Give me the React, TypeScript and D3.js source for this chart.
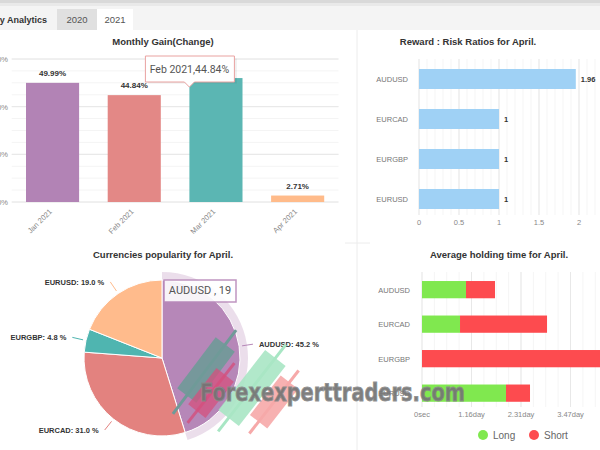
import React from "react";
import * as d3 from "d3";

const months = ["Jan 2021", "Feb 2021", "Mar 2021", "Apr 2021"];
const gains = [49.99, 44.84, 52.0, 2.71];
const gainLabels = ["49.99%", "44.84%", "52.00%", "2.71%"];
const monthColors = ["#b283b5", "#e38886", "#5bb6b3", "#ffbb8a"];
const gainTicks = [0, 20, 40, 60];

const pairs = ["AUDUSD", "EURCAD", "EURGBP", "EURUSD"];
const ratios = [1.96, 1, 1, 1];
const ratioTicks = [0, 0.5, 1, 1.5, 2];

const popularity = [45.2, 31.0, 4.8, 19.0];
const pieColors = ["#b687b8", "#e3827f", "#4fb5b0", "#ffbb8c"];

const longSecs = [88900, 76800, 0, 169700];
const shortSecs = [58600, 175800, 460000, 48500];
const holdTicks = [0, 100000, 200000, 300000, 400000];

const FONT = "'Liberation Sans', Arial, sans-serif";

export default function App() {
  // Chart 1: monthly gain
  const x1 = d3.scaleBand<string>().domain(months).range([11.7, 338.5]).paddingInner(0.35).paddingOuter(0.175);
  const y1 = d3.scaleLinear().domain([0, 60]).range([202, 59]);
  const minor1 = d3.range(0, 61, 5);

  // Chart 2: reward risk
  const x2 = d3.scaleLinear().domain([0, 2.2]).range([419, 595]);
  const y2 = d3.scaleBand<string>().domain(pairs).range([59, 219]).paddingInner(0.5).paddingOuter(0.25);
  const minor2 = d3.range(0, 2.21, 0.1);

  // Chart 3: pie
  const cx = 162, cy = 358, R = 78;
  const pie = d3.pie<number>().sort(null).value((d) => d)(popularity);
  const arc = d3.arc<d3.PieArcDatum<number>>().innerRadius(0).outerRadius(R);
  const halo = d3.arc<d3.PieArcDatum<number>>().innerRadius(R).outerRadius(R + 8);

  // Chart 4: holding time
  const x4 = d3.scaleLinear().domain([0, 500000]).range([422, 669.5]);
  const y4 = d3.scaleBand<string>().domain(pairs).range([272.4, 410.4]).paddingInner(0.5).paddingOuter(0.25);
  const minor4 = d3.range(0, 500001, 25000);
  const fmtHold = (v: number) => (v === 0 ? "0sec" : (v / 86400).toFixed(2) + "day");

  const marIdx = 2;
  const tipX = x1(months[marIdx])!;
  const tipY = y1(gains[marIdx]) + 9;

  return (
    <svg width={600} height={450} style={{ position: "absolute", left: 0, top: 0, background: "#fff" }} fontFamily={FONT}>
      {/* header */}
      <rect x={0} y={0} width={600} height={30} fill="#f4f4f4" />
      <rect x={0} y={0} width={600} height={3} fill="#d9d9d9" />
      <rect x={0} y={3} width={600} height={3} fill="#e9e9e9" />
      <rect x={57} y={9} width={40} height={21} fill="#e0e0e0" />
      <rect x={97} y={9} width={36} height={21} fill="#ffffff" />
      <text x={47} y={23} textAnchor="end" fontSize={9} fontWeight="bold" fill="#333">Monthly Analytics</text>
      <text x={77} y={23} textAnchor="middle" fontSize={9.5} fill="#555">2020</text>
      <text x={115} y={23} textAnchor="middle" fontSize={9.5} fill="#555">2021</text>
      <line x1={357} y1={30} x2={357} y2={450} stroke="#ececec" />
      <line x1={345} y1={243} x2={370} y2={243} stroke="#ececec" />

      {/* Chart 1 */}
      <text x={163} y={45} textAnchor="middle" fontSize={9.5} fontWeight="bold" fill="#333">Monthly Gain(Change)</text>
      {minor1.map((t) => (
        <line key={"m1" + t} x1={11.7} x2={338.5} y1={y1(t)} y2={y1(t)} stroke="#f4f4f4" />
      ))}
      {gainTicks.map((t) => (
        <g key={"g1" + t}>
          <line x1={11.7} x2={338.5} y1={y1(t)} y2={y1(t)} stroke="#e6e6e6" />
          <text x={8} y={y1(t) + 3} textAnchor="end" fontSize={7.5} fill="#888">{t + "%"}</text>
        </g>
      ))}
      {months.map((m, i) => (
        <g key={m}>
          <rect x={x1(m)} y={y1(gains[i])} width={x1.bandwidth()} height={y1(0) - y1(gains[i])} fill={monthColors[i]} />
          <text x={x1(m)! + x1.bandwidth() / 2} y={y1(gains[i]) - 7} textAnchor="middle" fontSize={8} fontWeight="bold" fill="#333">{gainLabels[i]}</text>
          <text transform={`translate(${x1(m)! + x1.bandwidth() / 2},${y1(0) + 10}) rotate(-45)`} textAnchor="end" fontSize={7.5} fill="#888">{m}</text>
        </g>
      ))}
      {/* tooltip */}
      <g>
        <rect x={tipX - 43} y={57} width={89} height={25} fill="#000" opacity={0.06} transform="translate(1.5,1.5)" />
        <path d={`M${tipX - 44},56 H${tipX + 45} V82 H${tipX + 5} L${tipX},${tipY} L${tipX - 5},82 H${tipX - 44} Z`} fill="#fff" stroke="#e9a2a0" strokeWidth={1} />
        <text x={tipX} y={73} textAnchor="middle" fontSize={10.5} fill="#555" fontFamily="Roboto, sans-serif">Feb 2021,44.84%</text>
      </g>

      {/* Chart 2 */}
      <text x={468} y={45} textAnchor="middle" fontSize={9.5} fontWeight="bold" fill="#333">Reward : Risk Ratios for April.</text>
      {minor2.map((t, i) => (
        <line key={"m2" + i} x1={x2(t)} x2={x2(t)} y1={59} y2={215} stroke="#f5f5f5" />
      ))}
      {ratioTicks.map((t) => (
        <g key={"t2" + t}>
          <line x1={x2(t)} x2={x2(t)} y1={59} y2={215} stroke="#e8e8e8" />
          <text x={x2(t)} y={225} textAnchor="middle" fontSize={7.5} fill="#888">{t}</text>
        </g>
      ))}
      {pairs.map((p, i) => (
        <g key={"r" + p}>
          <rect x={x2(0)} y={y2(p)} width={x2(ratios[i]) - x2(0)} height={y2.bandwidth()} fill="#9fd1f5" />
          <text x={x2(ratios[i]) + 5} y={y2(p)! + y2.bandwidth() / 2 + 3} fontSize={7.5} fontWeight="bold" fill="#333">{ratios[i]}</text>
          <text x={408} y={y2(p)! + y2.bandwidth() / 2 + 3} textAnchor="end" fontSize={7.5} fill="#777">{p}</text>
        </g>
      ))}

      {/* Chart 3 */}
      <text x={163} y={258} textAnchor="middle" fontSize={9.5} fontWeight="bold" fill="#333">Currencies popularity for April.</text>
      <g transform={`translate(${cx},${cy})`}>
        <path d={halo(pie[0])!} fill="#b687b8" opacity={0.28} />
        {pie.map((s, i) => (
          <path key={"p" + i} d={arc(s)!} fill={pieColors[i]} stroke="#fff" strokeWidth={1} />
        ))}
        {pie.map((s, i) => {
          const a = (s.startAngle + s.endAngle) / 2;
          const sx = Math.sin(a), sy = -Math.cos(a);
          const p1 = [sx * (R + 3), sy * (R + 3)];
          const p2 = [sx * (R + 14), sy * (R + 14)];
          const right = sx > 0;
          return (
            <g key={"l" + i}>
              <line x1={p1[0]} y1={p1[1]} x2={p2[0]} y2={p2[1]} stroke={pieColors[i]} strokeWidth={1} />
              <text x={p2[0] + (right ? 6 : -6)} y={p2[1] + 3} textAnchor={right ? "start" : "end"} fontSize={7.5} fontWeight="bold" fill="#333">
                {pairs[i] + ": " + popularity[i].toFixed(1) + " %"}
              </text>
            </g>
          );
        })}
      </g>
      <g>
        <rect x={cx + 2} y={cy - 78} width={72} height={22} fill="#fff" opacity={0.9} stroke="#b98bbb" strokeWidth={1.5} />
        <text x={cx + 38} y={cy - 64} textAnchor="middle" fontSize={11} fill="#555" fontFamily="Roboto, sans-serif">AUDUSD , 19</text>
      </g>

      {/* Chart 4 */}
      <text x={499} y={258} textAnchor="middle" fontSize={9.5} fontWeight="bold" fill="#333">Average holding time for April.</text>
      {minor4.map((t, i) => (
        <line key={"m4" + i} x1={x4(t)} x2={x4(t)} y1={272} y2={407} stroke="#f5f5f5" />
      ))}
      {holdTicks.map((t) => (
        <g key={"t4" + t}>
          <line x1={x4(t)} x2={x4(t)} y1={272} y2={407} stroke="#e8e8e8" />
          <text x={x4(t)} y={417} textAnchor="middle" fontSize={7.5} fill="#888">{fmtHold(t)}</text>
        </g>
      ))}
      {pairs.map((p, i) => (
        <g key={"h" + p}>
          <rect x={x4(0)} y={y4(p)} width={x4(longSecs[i]) - x4(0)} height={y4.bandwidth()} fill="#80e84f" />
          <rect x={x4(longSecs[i])} y={y4(p)} width={x4(longSecs[i] + shortSecs[i]) - x4(longSecs[i])} height={y4.bandwidth()} fill="#fd4b4f" />
          <text x={410} y={y4(p)! + y4.bandwidth() / 2 + 3} textAnchor="end" fontSize={7.5} fill="#777">{p}</text>
        </g>
      ))}
      <circle cx={483} cy={435} r={5} fill="#80e84f" />
      <text x={493} y={439} fontSize={10} fill="#666">Long</text>
      <circle cx={534} cy={435} r={5} fill="#fd4b4f" />
      <text x={544} y={439} fontSize={10} fill="#666">Short</text>

      {/* watermark */}
      <g pointerEvents="none">
        <g transform="translate(252,388) rotate(-52)">
          <line x1={-55} y1={0} x2={55} y2={0} stroke="#a8e6c4" strokeWidth={3} />
          <rect x={-38} y={-13} width={76} height={26} fill="#a8e6c4" opacity={0.9} />
        </g>
        <g transform="translate(274,402) rotate(-52)">
          <line x1={-40} y1={0} x2={40} y2={0} stroke="#f6a9a9" strokeWidth={3} />
          <rect x={-25} y={-11} width={50} height={22} fill="#f6a9a9" opacity={0.9} />
        </g>
        <g transform="translate(206,370) rotate(-53)">
          <line x1={-55} y1={0} x2={50} y2={0} stroke="#6f9a98" strokeWidth={3} />
          <rect x={-32} y={-12} width={64} height={24} fill="#6f9a98" opacity={0.9} />
        </g>
        <g transform="translate(211,393) rotate(-52)">
          <line x1={-38} y1={0} x2={38} y2={0} stroke="#d4507e" strokeWidth={3} opacity={0.8} />
          <rect x={-23} y={-11} width={46} height={22} fill="#d4507e" opacity={0.75} />
        </g>
        <text x={200} y={401} fontSize={24} fontWeight="bold" fontFamily="'DejaVu Sans', sans-serif" fill="#747474" opacity={0.92} textLength={265} lengthAdjust="spacingAndGlyphs" stroke="#8a8a8a" strokeWidth={0.8}>
          Forexexperttraders.com
        </text>
      </g>
    </svg>
  );
}
